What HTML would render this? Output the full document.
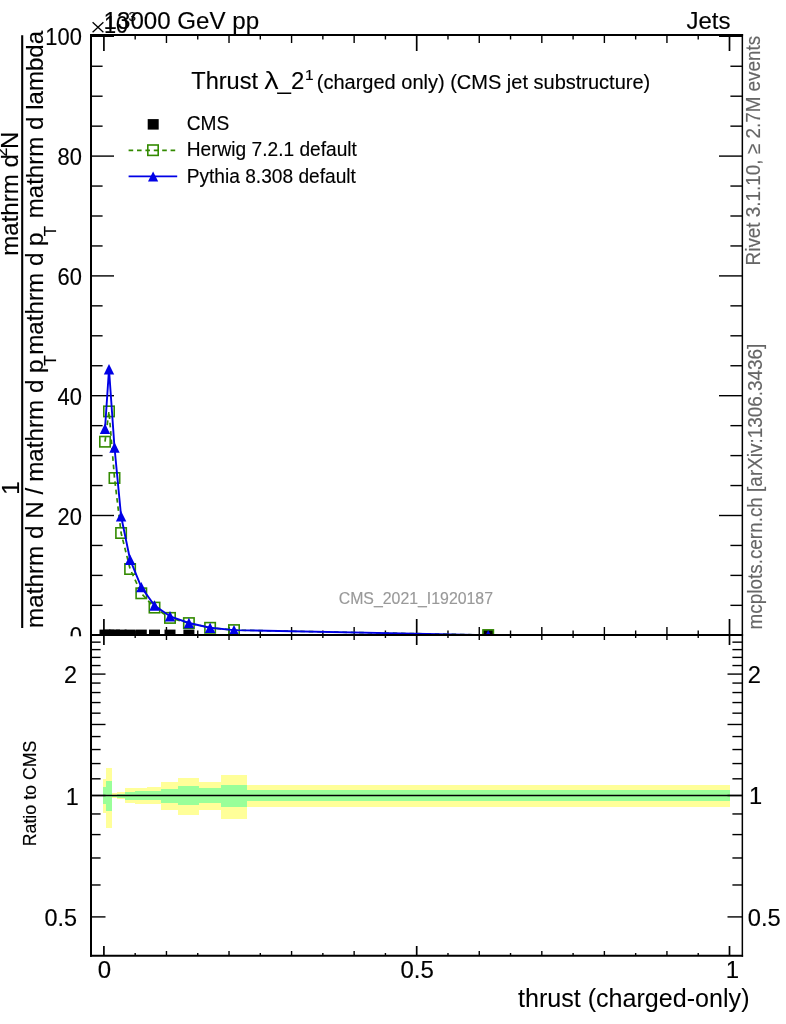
<!DOCTYPE html>
<html><head><meta charset="utf-8"><title>plot</title>
<style>html,body{margin:0;padding:0;background:#fff;}body{width:786px;height:1024px;position:relative;overflow:hidden;font-family:"Liberation Sans",sans-serif;}</style>
</head><body>
<svg width="786" height="1024" viewBox="0 0 786 1024" style="position:absolute;left:0;top:0;will-change:transform;font-family:'Liberation Sans',sans-serif">
<rect width="786" height="1024" fill="#fff"/>
<rect x="103" y="779" width="3.00" height="34.00" fill="#ffff99"/>
<rect x="106" y="768" width="6.00" height="60.00" fill="#ffff99"/>
<rect x="112" y="793" width="5.00" height="5.00" fill="#ffff99"/>
<rect x="117" y="792" width="8.00" height="7.00" fill="#ffff99"/>
<rect x="125" y="788" width="10.00" height="15.00" fill="#ffff99"/>
<rect x="135" y="788" width="12.00" height="16.00" fill="#ffff99"/>
<rect x="147" y="787" width="14.00" height="17.00" fill="#ffff99"/>
<rect x="161" y="782" width="17.00" height="28.00" fill="#ffff99"/>
<rect x="178" y="778" width="21.00" height="37.00" fill="#ffff99"/>
<rect x="199" y="782" width="22.00" height="28.00" fill="#ffff99"/>
<rect x="221" y="775" width="26.00" height="44.00" fill="#ffff99"/>
<rect x="247" y="785" width="483.00" height="22.00" fill="#ffff99"/>
<rect x="103" y="787" width="3.00" height="17.00" fill="#99ff99"/>
<rect x="106" y="781" width="6.00" height="30.00" fill="#99ff99"/>
<rect x="112" y="795" width="5.00" height="2.00" fill="#99ff99"/>
<rect x="117" y="794" width="8.00" height="4.00" fill="#99ff99"/>
<rect x="125" y="792" width="10.00" height="8.00" fill="#99ff99"/>
<rect x="135" y="791" width="12.00" height="9.00" fill="#99ff99"/>
<rect x="147" y="791" width="14.00" height="9.00" fill="#99ff99"/>
<rect x="161" y="789" width="17.00" height="14.00" fill="#99ff99"/>
<rect x="178" y="786" width="21.00" height="19.00" fill="#99ff99"/>
<rect x="199" y="788" width="22.00" height="15.00" fill="#99ff99"/>
<rect x="221" y="785" width="26.00" height="22.00" fill="#99ff99"/>
<rect x="247" y="790" width="483.00" height="11.00" fill="#99ff99"/>
<clipPath id="cm"><rect x="91" y="35" width="651" height="600"/></clipPath>
<g clip-path="url(#cm)">
<rect x="99.50" y="629.60" width="11" height="10.8" fill="#000"/>
<rect x="103.50" y="629.60" width="11" height="10.8" fill="#000"/>
<rect x="109.00" y="629.60" width="11" height="10.8" fill="#000"/>
<rect x="115.60" y="629.60" width="11" height="10.8" fill="#000"/>
<rect x="124.60" y="629.60" width="11" height="10.8" fill="#000"/>
<rect x="135.80" y="629.60" width="11" height="10.8" fill="#000"/>
<rect x="149.00" y="629.60" width="11" height="10.8" fill="#000"/>
<rect x="164.50" y="629.60" width="11" height="10.8" fill="#000"/>
<rect x="183.40" y="629.60" width="11" height="10.8" fill="#000"/>
<rect x="482.70" y="629.60" width="11" height="10.8" fill="#000"/>
</g>
<line x1="103.90" y1="35.00" x2="103.90" y2="51.00" stroke="#000" stroke-width="1.7"/>
<line x1="103.90" y1="635.00" x2="103.90" y2="619.00" stroke="#000" stroke-width="1.7"/>
<line x1="135.18" y1="35.00" x2="135.18" y2="39.50" stroke="#000" stroke-width="1.4"/>
<line x1="135.18" y1="635.00" x2="135.18" y2="630.50" stroke="#000" stroke-width="1.4"/>
<line x1="166.46" y1="35.00" x2="166.46" y2="43.00" stroke="#000" stroke-width="1.4"/>
<line x1="166.46" y1="635.00" x2="166.46" y2="627.00" stroke="#000" stroke-width="1.4"/>
<line x1="197.74" y1="35.00" x2="197.74" y2="39.50" stroke="#000" stroke-width="1.4"/>
<line x1="197.74" y1="635.00" x2="197.74" y2="630.50" stroke="#000" stroke-width="1.4"/>
<line x1="229.02" y1="35.00" x2="229.02" y2="43.00" stroke="#000" stroke-width="1.4"/>
<line x1="229.02" y1="635.00" x2="229.02" y2="627.00" stroke="#000" stroke-width="1.4"/>
<line x1="260.30" y1="35.00" x2="260.30" y2="39.50" stroke="#000" stroke-width="1.4"/>
<line x1="260.30" y1="635.00" x2="260.30" y2="630.50" stroke="#000" stroke-width="1.4"/>
<line x1="291.58" y1="35.00" x2="291.58" y2="43.00" stroke="#000" stroke-width="1.4"/>
<line x1="291.58" y1="635.00" x2="291.58" y2="627.00" stroke="#000" stroke-width="1.4"/>
<line x1="322.86" y1="35.00" x2="322.86" y2="39.50" stroke="#000" stroke-width="1.4"/>
<line x1="322.86" y1="635.00" x2="322.86" y2="630.50" stroke="#000" stroke-width="1.4"/>
<line x1="354.14" y1="35.00" x2="354.14" y2="43.00" stroke="#000" stroke-width="1.4"/>
<line x1="354.14" y1="635.00" x2="354.14" y2="627.00" stroke="#000" stroke-width="1.4"/>
<line x1="385.42" y1="35.00" x2="385.42" y2="39.50" stroke="#000" stroke-width="1.4"/>
<line x1="385.42" y1="635.00" x2="385.42" y2="630.50" stroke="#000" stroke-width="1.4"/>
<line x1="416.70" y1="35.00" x2="416.70" y2="51.00" stroke="#000" stroke-width="1.7"/>
<line x1="416.70" y1="635.00" x2="416.70" y2="619.00" stroke="#000" stroke-width="1.7"/>
<line x1="447.98" y1="35.00" x2="447.98" y2="39.50" stroke="#000" stroke-width="1.4"/>
<line x1="447.98" y1="635.00" x2="447.98" y2="630.50" stroke="#000" stroke-width="1.4"/>
<line x1="479.26" y1="35.00" x2="479.26" y2="43.00" stroke="#000" stroke-width="1.4"/>
<line x1="479.26" y1="635.00" x2="479.26" y2="627.00" stroke="#000" stroke-width="1.4"/>
<line x1="510.54" y1="35.00" x2="510.54" y2="39.50" stroke="#000" stroke-width="1.4"/>
<line x1="510.54" y1="635.00" x2="510.54" y2="630.50" stroke="#000" stroke-width="1.4"/>
<line x1="541.82" y1="35.00" x2="541.82" y2="43.00" stroke="#000" stroke-width="1.4"/>
<line x1="541.82" y1="635.00" x2="541.82" y2="627.00" stroke="#000" stroke-width="1.4"/>
<line x1="573.10" y1="35.00" x2="573.10" y2="39.50" stroke="#000" stroke-width="1.4"/>
<line x1="573.10" y1="635.00" x2="573.10" y2="630.50" stroke="#000" stroke-width="1.4"/>
<line x1="604.38" y1="35.00" x2="604.38" y2="43.00" stroke="#000" stroke-width="1.4"/>
<line x1="604.38" y1="635.00" x2="604.38" y2="627.00" stroke="#000" stroke-width="1.4"/>
<line x1="635.66" y1="35.00" x2="635.66" y2="39.50" stroke="#000" stroke-width="1.4"/>
<line x1="635.66" y1="635.00" x2="635.66" y2="630.50" stroke="#000" stroke-width="1.4"/>
<line x1="666.94" y1="35.00" x2="666.94" y2="43.00" stroke="#000" stroke-width="1.4"/>
<line x1="666.94" y1="635.00" x2="666.94" y2="627.00" stroke="#000" stroke-width="1.4"/>
<line x1="698.22" y1="35.00" x2="698.22" y2="39.50" stroke="#000" stroke-width="1.4"/>
<line x1="698.22" y1="635.00" x2="698.22" y2="630.50" stroke="#000" stroke-width="1.4"/>
<line x1="729.50" y1="35.00" x2="729.50" y2="51.00" stroke="#000" stroke-width="1.7"/>
<line x1="729.50" y1="635.00" x2="729.50" y2="619.00" stroke="#000" stroke-width="1.7"/>
<line x1="91.00" y1="635.30" x2="114.00" y2="635.30" stroke="#000" stroke-width="1.4"/>
<line x1="742.00" y1="635.30" x2="719.00" y2="635.30" stroke="#000" stroke-width="1.4"/>
<line x1="91.00" y1="605.35" x2="102.60" y2="605.35" stroke="#000" stroke-width="1.4"/>
<line x1="742.00" y1="605.35" x2="730.40" y2="605.35" stroke="#000" stroke-width="1.4"/>
<line x1="91.00" y1="575.40" x2="102.60" y2="575.40" stroke="#000" stroke-width="1.4"/>
<line x1="742.00" y1="575.40" x2="730.40" y2="575.40" stroke="#000" stroke-width="1.4"/>
<line x1="91.00" y1="545.45" x2="102.60" y2="545.45" stroke="#000" stroke-width="1.4"/>
<line x1="742.00" y1="545.45" x2="730.40" y2="545.45" stroke="#000" stroke-width="1.4"/>
<line x1="91.00" y1="515.50" x2="114.00" y2="515.50" stroke="#000" stroke-width="1.4"/>
<line x1="742.00" y1="515.50" x2="719.00" y2="515.50" stroke="#000" stroke-width="1.4"/>
<line x1="91.00" y1="485.55" x2="102.60" y2="485.55" stroke="#000" stroke-width="1.4"/>
<line x1="742.00" y1="485.55" x2="730.40" y2="485.55" stroke="#000" stroke-width="1.4"/>
<line x1="91.00" y1="455.60" x2="102.60" y2="455.60" stroke="#000" stroke-width="1.4"/>
<line x1="742.00" y1="455.60" x2="730.40" y2="455.60" stroke="#000" stroke-width="1.4"/>
<line x1="91.00" y1="425.65" x2="102.60" y2="425.65" stroke="#000" stroke-width="1.4"/>
<line x1="742.00" y1="425.65" x2="730.40" y2="425.65" stroke="#000" stroke-width="1.4"/>
<line x1="91.00" y1="395.70" x2="114.00" y2="395.70" stroke="#000" stroke-width="1.4"/>
<line x1="742.00" y1="395.70" x2="719.00" y2="395.70" stroke="#000" stroke-width="1.4"/>
<line x1="91.00" y1="365.75" x2="102.60" y2="365.75" stroke="#000" stroke-width="1.4"/>
<line x1="742.00" y1="365.75" x2="730.40" y2="365.75" stroke="#000" stroke-width="1.4"/>
<line x1="91.00" y1="335.80" x2="102.60" y2="335.80" stroke="#000" stroke-width="1.4"/>
<line x1="742.00" y1="335.80" x2="730.40" y2="335.80" stroke="#000" stroke-width="1.4"/>
<line x1="91.00" y1="305.85" x2="102.60" y2="305.85" stroke="#000" stroke-width="1.4"/>
<line x1="742.00" y1="305.85" x2="730.40" y2="305.85" stroke="#000" stroke-width="1.4"/>
<line x1="91.00" y1="275.90" x2="114.00" y2="275.90" stroke="#000" stroke-width="1.4"/>
<line x1="742.00" y1="275.90" x2="719.00" y2="275.90" stroke="#000" stroke-width="1.4"/>
<line x1="91.00" y1="245.95" x2="102.60" y2="245.95" stroke="#000" stroke-width="1.4"/>
<line x1="742.00" y1="245.95" x2="730.40" y2="245.95" stroke="#000" stroke-width="1.4"/>
<line x1="91.00" y1="216.00" x2="102.60" y2="216.00" stroke="#000" stroke-width="1.4"/>
<line x1="742.00" y1="216.00" x2="730.40" y2="216.00" stroke="#000" stroke-width="1.4"/>
<line x1="91.00" y1="186.05" x2="102.60" y2="186.05" stroke="#000" stroke-width="1.4"/>
<line x1="742.00" y1="186.05" x2="730.40" y2="186.05" stroke="#000" stroke-width="1.4"/>
<line x1="91.00" y1="156.10" x2="114.00" y2="156.10" stroke="#000" stroke-width="1.4"/>
<line x1="742.00" y1="156.10" x2="719.00" y2="156.10" stroke="#000" stroke-width="1.4"/>
<line x1="91.00" y1="126.15" x2="102.60" y2="126.15" stroke="#000" stroke-width="1.4"/>
<line x1="742.00" y1="126.15" x2="730.40" y2="126.15" stroke="#000" stroke-width="1.4"/>
<line x1="91.00" y1="96.20" x2="102.60" y2="96.20" stroke="#000" stroke-width="1.4"/>
<line x1="742.00" y1="96.20" x2="730.40" y2="96.20" stroke="#000" stroke-width="1.4"/>
<line x1="91.00" y1="66.25" x2="102.60" y2="66.25" stroke="#000" stroke-width="1.4"/>
<line x1="742.00" y1="66.25" x2="730.40" y2="66.25" stroke="#000" stroke-width="1.4"/>
<line x1="91.00" y1="36.30" x2="114.00" y2="36.30" stroke="#000" stroke-width="1.4"/>
<line x1="742.00" y1="36.30" x2="719.00" y2="36.30" stroke="#000" stroke-width="1.4"/>
<polyline points="105.00,441.70 109.00,411.40 114.50,478.00 121.10,533.00 130.10,569.00 141.30,593.30 154.50,607.60 170.00,617.90 188.90,623.10 210.10,627.80 234.00,630.10 488.20,635.10" fill="none" stroke="#338a00" stroke-width="1.7" stroke-dasharray="4.6 3.8"/>
<rect x="99.80" y="436.50" width="10.4" height="10.4" fill="none" stroke="#338a00" stroke-width="1.6"/>
<rect x="103.80" y="406.20" width="10.4" height="10.4" fill="none" stroke="#338a00" stroke-width="1.6"/>
<rect x="109.30" y="472.80" width="10.4" height="10.4" fill="none" stroke="#338a00" stroke-width="1.6"/>
<rect x="115.90" y="527.80" width="10.4" height="10.4" fill="none" stroke="#338a00" stroke-width="1.6"/>
<rect x="124.90" y="563.80" width="10.4" height="10.4" fill="none" stroke="#338a00" stroke-width="1.6"/>
<rect x="136.10" y="588.10" width="10.4" height="10.4" fill="none" stroke="#338a00" stroke-width="1.6"/>
<rect x="149.30" y="602.40" width="10.4" height="10.4" fill="none" stroke="#338a00" stroke-width="1.6"/>
<rect x="164.80" y="612.70" width="10.4" height="10.4" fill="none" stroke="#338a00" stroke-width="1.6"/>
<rect x="183.70" y="617.90" width="10.4" height="10.4" fill="none" stroke="#338a00" stroke-width="1.6"/>
<rect x="204.90" y="622.60" width="10.4" height="10.4" fill="none" stroke="#338a00" stroke-width="1.6"/>
<rect x="228.80" y="624.90" width="10.4" height="10.4" fill="none" stroke="#338a00" stroke-width="1.6"/>
<rect x="483.00" y="629.90" width="10.4" height="10.4" fill="none" stroke="#338a00" stroke-width="1.6"/>
<polyline points="105.00,428.70 109.00,369.30 114.50,447.50 121.10,516.30 130.10,559.70 141.30,587.10 154.50,605.50 170.00,616.30 188.90,623.00 210.10,627.70 234.00,630.10 488.20,635.10" fill="none" stroke="#0000e6" stroke-width="1.9" stroke-linejoin="round"/>
<polygon points="99.80,433.90 110.20,433.90 105.00,423.50" fill="#0000e6"/>
<polygon points="103.80,374.50 114.20,374.50 109.00,364.10" fill="#0000e6"/>
<polygon points="109.30,452.70 119.70,452.70 114.50,442.30" fill="#0000e6"/>
<polygon points="115.90,521.50 126.30,521.50 121.10,511.10" fill="#0000e6"/>
<polygon points="124.90,564.90 135.30,564.90 130.10,554.50" fill="#0000e6"/>
<polygon points="136.10,592.30 146.50,592.30 141.30,581.90" fill="#0000e6"/>
<polygon points="149.30,610.70 159.70,610.70 154.50,600.30" fill="#0000e6"/>
<polygon points="164.80,621.50 175.20,621.50 170.00,611.10" fill="#0000e6"/>
<polygon points="183.70,628.20 194.10,628.20 188.90,617.80" fill="#0000e6"/>
<polygon points="204.90,632.90 215.30,632.90 210.10,622.50" fill="#0000e6"/>
<polygon points="228.80,635.30 239.20,635.30 234.00,624.90" fill="#0000e6"/>
<polygon points="483.00,640.30 493.40,640.30 488.20,629.90" fill="#0000e6"/>
<rect x="0" y="635" width="786" height="389" fill="#fff"/>
<rect x="103" y="779" width="3.00" height="34.00" fill="#ffff99"/>
<rect x="106" y="768" width="6.00" height="60.00" fill="#ffff99"/>
<rect x="112" y="793" width="5.00" height="5.00" fill="#ffff99"/>
<rect x="117" y="792" width="8.00" height="7.00" fill="#ffff99"/>
<rect x="125" y="788" width="10.00" height="15.00" fill="#ffff99"/>
<rect x="135" y="788" width="12.00" height="16.00" fill="#ffff99"/>
<rect x="147" y="787" width="14.00" height="17.00" fill="#ffff99"/>
<rect x="161" y="782" width="17.00" height="28.00" fill="#ffff99"/>
<rect x="178" y="778" width="21.00" height="37.00" fill="#ffff99"/>
<rect x="199" y="782" width="22.00" height="28.00" fill="#ffff99"/>
<rect x="221" y="775" width="26.00" height="44.00" fill="#ffff99"/>
<rect x="247" y="785" width="483.00" height="22.00" fill="#ffff99"/>
<rect x="103" y="787" width="3.00" height="17.00" fill="#99ff99"/>
<rect x="106" y="781" width="6.00" height="30.00" fill="#99ff99"/>
<rect x="112" y="795" width="5.00" height="2.00" fill="#99ff99"/>
<rect x="117" y="794" width="8.00" height="4.00" fill="#99ff99"/>
<rect x="125" y="792" width="10.00" height="8.00" fill="#99ff99"/>
<rect x="135" y="791" width="12.00" height="9.00" fill="#99ff99"/>
<rect x="147" y="791" width="14.00" height="9.00" fill="#99ff99"/>
<rect x="161" y="789" width="17.00" height="14.00" fill="#99ff99"/>
<rect x="178" y="786" width="21.00" height="19.00" fill="#99ff99"/>
<rect x="199" y="788" width="22.00" height="15.00" fill="#99ff99"/>
<rect x="221" y="785" width="26.00" height="22.00" fill="#99ff99"/>
<rect x="247" y="790" width="483.00" height="11.00" fill="#99ff99"/>
<line x1="91.00" y1="795.50" x2="742.00" y2="795.50" stroke="#000" stroke-width="1.5"/>
<line x1="103.90" y1="635.00" x2="103.90" y2="645.00" stroke="#000" stroke-width="1.7"/>
<line x1="103.90" y1="956.00" x2="103.90" y2="946.00" stroke="#000" stroke-width="1.7"/>
<line x1="135.18" y1="635.00" x2="135.18" y2="638.00" stroke="#000" stroke-width="1.4"/>
<line x1="135.18" y1="956.00" x2="135.18" y2="953.00" stroke="#000" stroke-width="1.4"/>
<line x1="166.46" y1="635.00" x2="166.46" y2="640.00" stroke="#000" stroke-width="1.4"/>
<line x1="166.46" y1="956.00" x2="166.46" y2="951.00" stroke="#000" stroke-width="1.4"/>
<line x1="197.74" y1="635.00" x2="197.74" y2="638.00" stroke="#000" stroke-width="1.4"/>
<line x1="197.74" y1="956.00" x2="197.74" y2="953.00" stroke="#000" stroke-width="1.4"/>
<line x1="229.02" y1="635.00" x2="229.02" y2="640.00" stroke="#000" stroke-width="1.4"/>
<line x1="229.02" y1="956.00" x2="229.02" y2="951.00" stroke="#000" stroke-width="1.4"/>
<line x1="260.30" y1="635.00" x2="260.30" y2="638.00" stroke="#000" stroke-width="1.4"/>
<line x1="260.30" y1="956.00" x2="260.30" y2="953.00" stroke="#000" stroke-width="1.4"/>
<line x1="291.58" y1="635.00" x2="291.58" y2="640.00" stroke="#000" stroke-width="1.4"/>
<line x1="291.58" y1="956.00" x2="291.58" y2="951.00" stroke="#000" stroke-width="1.4"/>
<line x1="322.86" y1="635.00" x2="322.86" y2="638.00" stroke="#000" stroke-width="1.4"/>
<line x1="322.86" y1="956.00" x2="322.86" y2="953.00" stroke="#000" stroke-width="1.4"/>
<line x1="354.14" y1="635.00" x2="354.14" y2="640.00" stroke="#000" stroke-width="1.4"/>
<line x1="354.14" y1="956.00" x2="354.14" y2="951.00" stroke="#000" stroke-width="1.4"/>
<line x1="385.42" y1="635.00" x2="385.42" y2="638.00" stroke="#000" stroke-width="1.4"/>
<line x1="385.42" y1="956.00" x2="385.42" y2="953.00" stroke="#000" stroke-width="1.4"/>
<line x1="416.70" y1="635.00" x2="416.70" y2="645.00" stroke="#000" stroke-width="1.7"/>
<line x1="416.70" y1="956.00" x2="416.70" y2="946.00" stroke="#000" stroke-width="1.7"/>
<line x1="447.98" y1="635.00" x2="447.98" y2="638.00" stroke="#000" stroke-width="1.4"/>
<line x1="447.98" y1="956.00" x2="447.98" y2="953.00" stroke="#000" stroke-width="1.4"/>
<line x1="479.26" y1="635.00" x2="479.26" y2="640.00" stroke="#000" stroke-width="1.4"/>
<line x1="479.26" y1="956.00" x2="479.26" y2="951.00" stroke="#000" stroke-width="1.4"/>
<line x1="510.54" y1="635.00" x2="510.54" y2="638.00" stroke="#000" stroke-width="1.4"/>
<line x1="510.54" y1="956.00" x2="510.54" y2="953.00" stroke="#000" stroke-width="1.4"/>
<line x1="541.82" y1="635.00" x2="541.82" y2="640.00" stroke="#000" stroke-width="1.4"/>
<line x1="541.82" y1="956.00" x2="541.82" y2="951.00" stroke="#000" stroke-width="1.4"/>
<line x1="573.10" y1="635.00" x2="573.10" y2="638.00" stroke="#000" stroke-width="1.4"/>
<line x1="573.10" y1="956.00" x2="573.10" y2="953.00" stroke="#000" stroke-width="1.4"/>
<line x1="604.38" y1="635.00" x2="604.38" y2="640.00" stroke="#000" stroke-width="1.4"/>
<line x1="604.38" y1="956.00" x2="604.38" y2="951.00" stroke="#000" stroke-width="1.4"/>
<line x1="635.66" y1="635.00" x2="635.66" y2="638.00" stroke="#000" stroke-width="1.4"/>
<line x1="635.66" y1="956.00" x2="635.66" y2="953.00" stroke="#000" stroke-width="1.4"/>
<line x1="666.94" y1="635.00" x2="666.94" y2="640.00" stroke="#000" stroke-width="1.4"/>
<line x1="666.94" y1="956.00" x2="666.94" y2="951.00" stroke="#000" stroke-width="1.4"/>
<line x1="698.22" y1="635.00" x2="698.22" y2="638.00" stroke="#000" stroke-width="1.4"/>
<line x1="698.22" y1="956.00" x2="698.22" y2="953.00" stroke="#000" stroke-width="1.4"/>
<line x1="729.50" y1="635.00" x2="729.50" y2="645.00" stroke="#000" stroke-width="1.7"/>
<line x1="729.50" y1="956.00" x2="729.50" y2="946.00" stroke="#000" stroke-width="1.7"/>
<line x1="91.00" y1="916.91" x2="105.50" y2="916.91" stroke="#000" stroke-width="1.4"/>
<line x1="742.00" y1="916.91" x2="727.50" y2="916.91" stroke="#000" stroke-width="1.4"/>
<line x1="91.00" y1="884.98" x2="100.60" y2="884.98" stroke="#000" stroke-width="1.4"/>
<line x1="742.00" y1="884.98" x2="732.40" y2="884.98" stroke="#000" stroke-width="1.4"/>
<line x1="91.00" y1="857.98" x2="100.60" y2="857.98" stroke="#000" stroke-width="1.4"/>
<line x1="742.00" y1="857.98" x2="732.40" y2="857.98" stroke="#000" stroke-width="1.4"/>
<line x1="91.00" y1="834.59" x2="100.60" y2="834.59" stroke="#000" stroke-width="1.4"/>
<line x1="742.00" y1="834.59" x2="732.40" y2="834.59" stroke="#000" stroke-width="1.4"/>
<line x1="91.00" y1="813.96" x2="100.60" y2="813.96" stroke="#000" stroke-width="1.4"/>
<line x1="742.00" y1="813.96" x2="732.40" y2="813.96" stroke="#000" stroke-width="1.4"/>
<line x1="91.00" y1="795.50" x2="105.50" y2="795.50" stroke="#000" stroke-width="1.4"/>
<line x1="742.00" y1="795.50" x2="727.50" y2="795.50" stroke="#000" stroke-width="1.4"/>
<line x1="91.00" y1="778.81" x2="100.60" y2="778.81" stroke="#000" stroke-width="1.4"/>
<line x1="742.00" y1="778.81" x2="732.40" y2="778.81" stroke="#000" stroke-width="1.4"/>
<line x1="91.00" y1="763.56" x2="100.60" y2="763.56" stroke="#000" stroke-width="1.4"/>
<line x1="742.00" y1="763.56" x2="732.40" y2="763.56" stroke="#000" stroke-width="1.4"/>
<line x1="91.00" y1="749.54" x2="100.60" y2="749.54" stroke="#000" stroke-width="1.4"/>
<line x1="742.00" y1="749.54" x2="732.40" y2="749.54" stroke="#000" stroke-width="1.4"/>
<line x1="91.00" y1="736.56" x2="100.60" y2="736.56" stroke="#000" stroke-width="1.4"/>
<line x1="742.00" y1="736.56" x2="732.40" y2="736.56" stroke="#000" stroke-width="1.4"/>
<line x1="91.00" y1="724.48" x2="105.50" y2="724.48" stroke="#000" stroke-width="1.4"/>
<line x1="742.00" y1="724.48" x2="727.50" y2="724.48" stroke="#000" stroke-width="1.4"/>
<line x1="91.00" y1="713.17" x2="100.60" y2="713.17" stroke="#000" stroke-width="1.4"/>
<line x1="742.00" y1="713.17" x2="732.40" y2="713.17" stroke="#000" stroke-width="1.4"/>
<line x1="91.00" y1="702.55" x2="100.60" y2="702.55" stroke="#000" stroke-width="1.4"/>
<line x1="742.00" y1="702.55" x2="732.40" y2="702.55" stroke="#000" stroke-width="1.4"/>
<line x1="91.00" y1="692.54" x2="100.60" y2="692.54" stroke="#000" stroke-width="1.4"/>
<line x1="742.00" y1="692.54" x2="732.40" y2="692.54" stroke="#000" stroke-width="1.4"/>
<line x1="91.00" y1="683.07" x2="100.60" y2="683.07" stroke="#000" stroke-width="1.4"/>
<line x1="742.00" y1="683.07" x2="732.40" y2="683.07" stroke="#000" stroke-width="1.4"/>
<line x1="91.00" y1="674.09" x2="105.50" y2="674.09" stroke="#000" stroke-width="1.4"/>
<line x1="742.00" y1="674.09" x2="727.50" y2="674.09" stroke="#000" stroke-width="1.4"/>
<line x1="91.00" y1="665.54" x2="100.60" y2="665.54" stroke="#000" stroke-width="1.4"/>
<line x1="742.00" y1="665.54" x2="732.40" y2="665.54" stroke="#000" stroke-width="1.4"/>
<line x1="91.00" y1="657.39" x2="100.60" y2="657.39" stroke="#000" stroke-width="1.4"/>
<line x1="742.00" y1="657.39" x2="732.40" y2="657.39" stroke="#000" stroke-width="1.4"/>
<line x1="91.00" y1="649.61" x2="100.60" y2="649.61" stroke="#000" stroke-width="1.4"/>
<line x1="742.00" y1="649.61" x2="732.40" y2="649.61" stroke="#000" stroke-width="1.4"/>
<line x1="91.00" y1="642.15" x2="100.60" y2="642.15" stroke="#000" stroke-width="1.4"/>
<line x1="742.00" y1="642.15" x2="732.40" y2="642.15" stroke="#000" stroke-width="1.4"/>
<line x1="91.00" y1="34.00" x2="91.00" y2="956.80" stroke="#000" stroke-width="2" stroke-linecap="butt"/>
<line x1="742.35" y1="34.00" x2="742.35" y2="956.80" stroke="#000" stroke-width="1.5" stroke-linecap="butt"/>
<line x1="90.00" y1="35.00" x2="743.10" y2="35.00" stroke="#000" stroke-width="2" stroke-linecap="butt"/>
<line x1="90.00" y1="635.00" x2="743.10" y2="635.00" stroke="#000" stroke-width="1.8" stroke-linecap="butt"/>
<line x1="90.00" y1="955.80" x2="743.10" y2="955.80" stroke="#000" stroke-width="2.1" stroke-linecap="butt"/>
<text x="0" y="0" font-size="24.5" fill="#000" stroke="#000" stroke-width="0.15" text-anchor="start" transform="translate(103.6 28.9) scale(0.985 1)" >13000 GeV pp</text>
<text x="730.5" y="28.8" font-size="24" fill="#000" stroke="#000" stroke-width="0.15" text-anchor="end" >Jets</text>
<line x1="92.60" y1="22.20" x2="103.40" y2="32.20" stroke="#000" stroke-width="1.3"/>
<line x1="92.60" y1="32.20" x2="103.40" y2="22.20" stroke="#000" stroke-width="1.3"/>
<text x="0" y="0" font-size="23.4" fill="#000" stroke="#000" stroke-width="0.15" text-anchor="start" transform="translate(104.0 33.1) scale(0.93 1)" >10</text>
<text x="128.6" y="21.4" font-size="13.5" fill="#000" stroke="#000" stroke-width="0.15" text-anchor="start" >3</text>
<text x="0" y="0" font-size="24.3" fill="#000" stroke="#000" stroke-width="0.15" text-anchor="end" transform="translate(81.8 45.299999999999955) scale(0.9 1)" >100</text>
<text x="0" y="0" font-size="24.3" fill="#000" stroke="#000" stroke-width="0.15" text-anchor="end" transform="translate(81.8 165.0999999999999) scale(0.9 1)" >80</text>
<text x="0" y="0" font-size="24.3" fill="#000" stroke="#000" stroke-width="0.15" text-anchor="end" transform="translate(81.8 284.8999999999999) scale(0.9 1)" >60</text>
<text x="0" y="0" font-size="24.3" fill="#000" stroke="#000" stroke-width="0.15" text-anchor="end" transform="translate(81.8 404.69999999999993) scale(0.9 1)" >40</text>
<text x="0" y="0" font-size="24.3" fill="#000" stroke="#000" stroke-width="0.15" text-anchor="end" transform="translate(81.8 524.5) scale(0.9 1)" >20</text>
<clipPath id="c0"><rect x="0" y="0" width="91" height="636.2"/></clipPath>
<g clip-path="url(#c0)">
<text x="0" y="0" font-size="24.3" fill="#000" stroke="#000" stroke-width="0.15" text-anchor="end" transform="translate(81.8 644.3) scale(0.9 1)" >0</text>
</g>
<text x="0" y="0" font-size="24" fill="#000" stroke="#000" stroke-width="0.15" text-anchor="end" transform="translate(77.0 683.2864370227522) scale(0.975 1)" >2</text>
<text x="747.8" y="682.6864370227522" font-size="23.7" fill="#000" stroke="#000" stroke-width="0.15" text-anchor="start" >2</text>
<text x="0" y="0" font-size="24" fill="#000" stroke="#000" stroke-width="0.15" text-anchor="end" transform="translate(78.8 804.7) scale(0.975 1)" >1</text>
<text x="748.88" y="804.1" font-size="23.7" fill="#000" stroke="#000" stroke-width="0.15" text-anchor="start" >1</text>
<text x="0" y="0" font-size="24" fill="#000" stroke="#000" stroke-width="0.15" text-anchor="end" transform="translate(77.0 926.1135629772477) scale(0.975 1)" >0.5</text>
<text x="747.8" y="925.5135629772477" font-size="23.7" fill="#000" stroke="#000" stroke-width="0.15" text-anchor="start" >0.5</text>
<text x="104.4" y="978.4" font-size="24" fill="#000" stroke="#000" stroke-width="0.15" text-anchor="middle" >0</text>
<text x="417.20000000000005" y="978.4" font-size="24" fill="#000" stroke="#000" stroke-width="0.15" text-anchor="middle" >0.5</text>
<text x="732.4" y="978.4" font-size="24" fill="#000" stroke="#000" stroke-width="0.15" text-anchor="middle" >1</text>
<text x="749.5" y="1007.3" font-size="25.1" fill="#000" stroke="#000" stroke-width="0.05" text-anchor="end" >thrust (charged-only)</text>
<text x="36.4" y="846.3" font-size="17.8" fill="#000" stroke="#000" stroke-width="0.15" text-anchor="start" transform="rotate(-90 36.4 846.3)" >Ratio to CMS</text>
<text x="0" y="0" font-size="20.4" fill="#666" stroke="#666" stroke-width="0.15" text-anchor="start" transform="translate(760.3 265.4) rotate(-90) scale(0.926 1)" >Rivet 3.1.10, ≥ 2.7M events</text>
<text x="0" y="0" font-size="20.6" fill="#666" stroke="#666" stroke-width="0.15" text-anchor="start" transform="translate(762.0 629.5) rotate(-90) scale(0.918 1)" >mcplots.cern.ch [arXiv:1306.3436]</text>
<text x="338.7" y="603.9" font-size="15.87" fill="#999" stroke="#999" stroke-width="0.15" text-anchor="start" >CMS_2021_I1920187</text>
<text x="0" y="0" font-size="24.4" fill="#000" stroke="#000" stroke-width="0.15" text-anchor="start" transform="translate(191.3 89) scale(0.965 1)" >Thrust</text>
<text x="0" y="0" font-size="24" transform="translate(264.2 89) scale(1.2 1)">λ</text>
<text x="277.6" y="89" font-size="24" fill="#000" stroke="#000" stroke-width="0.15" text-anchor="start" >_</text>
<text x="291" y="89" font-size="24" fill="#000" stroke="#000" stroke-width="0.15" text-anchor="start" >2</text>
<text x="305.0" y="79.6" font-size="15.5" fill="#000" stroke="#000" stroke-width="0.15" text-anchor="start" >1</text>
<text x="316.8" y="89" font-size="20" fill="#000" stroke="#000" stroke-width="0.15" text-anchor="start" >(charged only) (CMS jet substructure)</text>
<rect x="147.7" y="119.1" width="11" height="10.5" fill="#000"/>
<text x="0" y="0" font-size="19.9" fill="#000" stroke="#000" stroke-width="0.15" text-anchor="start" transform="translate(186.7 129.9) scale(0.962 1)" >CMS</text>
<line x1="128.60" y1="150.40" x2="176.80" y2="150.40" stroke="#338a00" stroke-width="1.7" stroke-dasharray="4.6 3.8"/>
<rect x="147.8" y="145.00" width="10.4" height="10.4" fill="none" stroke="#338a00" stroke-width="1.6"/>
<text x="0" y="0" font-size="19.9" fill="#000" stroke="#000" stroke-width="0.15" text-anchor="start" transform="translate(186.7 156) scale(0.962 1)" >Herwig 7.2.1 default</text>
<line x1="128.60" y1="176.40" x2="177.20" y2="176.40" stroke="#0000e6" stroke-width="1.6"/>
<polygon points="148.00,181.60 158.20,181.60 153.10,171.40" fill="#0000e6"/>
<text x="0" y="0" font-size="19.9" fill="#000" stroke="#000" stroke-width="0.15" text-anchor="start" transform="translate(186.7 182.8) scale(0.962 1)" >Pythia 8.308 default</text>
<text x="43.1" y="628" font-size="24.25" fill="#000" stroke="#000" stroke-width="0.15" text-anchor="start" transform="rotate(-90 43.1 628)" >mathrm d N /</text>
<text x="43.1" y="481.8" font-size="24.2" fill="#000" stroke="#000" stroke-width="0.15" text-anchor="start" transform="rotate(-90 43.1 481.8)" >mathrm d p</text>
<text x="55.9" y="365.6" font-size="17" fill="#000" stroke="#000" stroke-width="0.15" text-anchor="start" transform="rotate(-90 55.9 365.6)" >T</text>
<text x="43.1" y="354.8" font-size="24.2" fill="#000" stroke="#000" stroke-width="0.15" text-anchor="start" transform="rotate(-90 43.1 354.8)" >mathrm d p</text>
<text x="55.9" y="236.3" font-size="17" fill="#000" stroke="#000" stroke-width="0.15" text-anchor="start" transform="rotate(-90 55.9 236.3)" >T</text>
<text x="43.1" y="218.3" font-size="24.1" fill="#000" stroke="#000" stroke-width="0.15" text-anchor="start" transform="rotate(-90 43.1 218.3)" >mathrm d lambda</text>
<text x="18.900000000000002" y="494.8" font-size="24" fill="#000" stroke="#000" stroke-width="0.15" text-anchor="start" transform="rotate(-90 18.900000000000002 494.8)" >1</text>
<text x="18.1" y="255.8" font-size="24.1" fill="#000" stroke="#000" stroke-width="0.15" text-anchor="start" transform="rotate(-90 18.1 255.8)" >mathrm d</text>
<text x="7.1" y="156.6" font-size="16" fill="#000" stroke="#000" stroke-width="0.15" text-anchor="start" transform="rotate(-90 7.1 156.6)" >2</text>
<text x="18.1" y="148.9" font-size="24" fill="#000" stroke="#000" stroke-width="0.15" text-anchor="start" transform="rotate(-90 18.1 148.9)" >N</text>
<line x1="22.20" y1="35.20" x2="22.20" y2="627.90" stroke="#000" stroke-width="2.1"/>
</svg>
</body></html>
